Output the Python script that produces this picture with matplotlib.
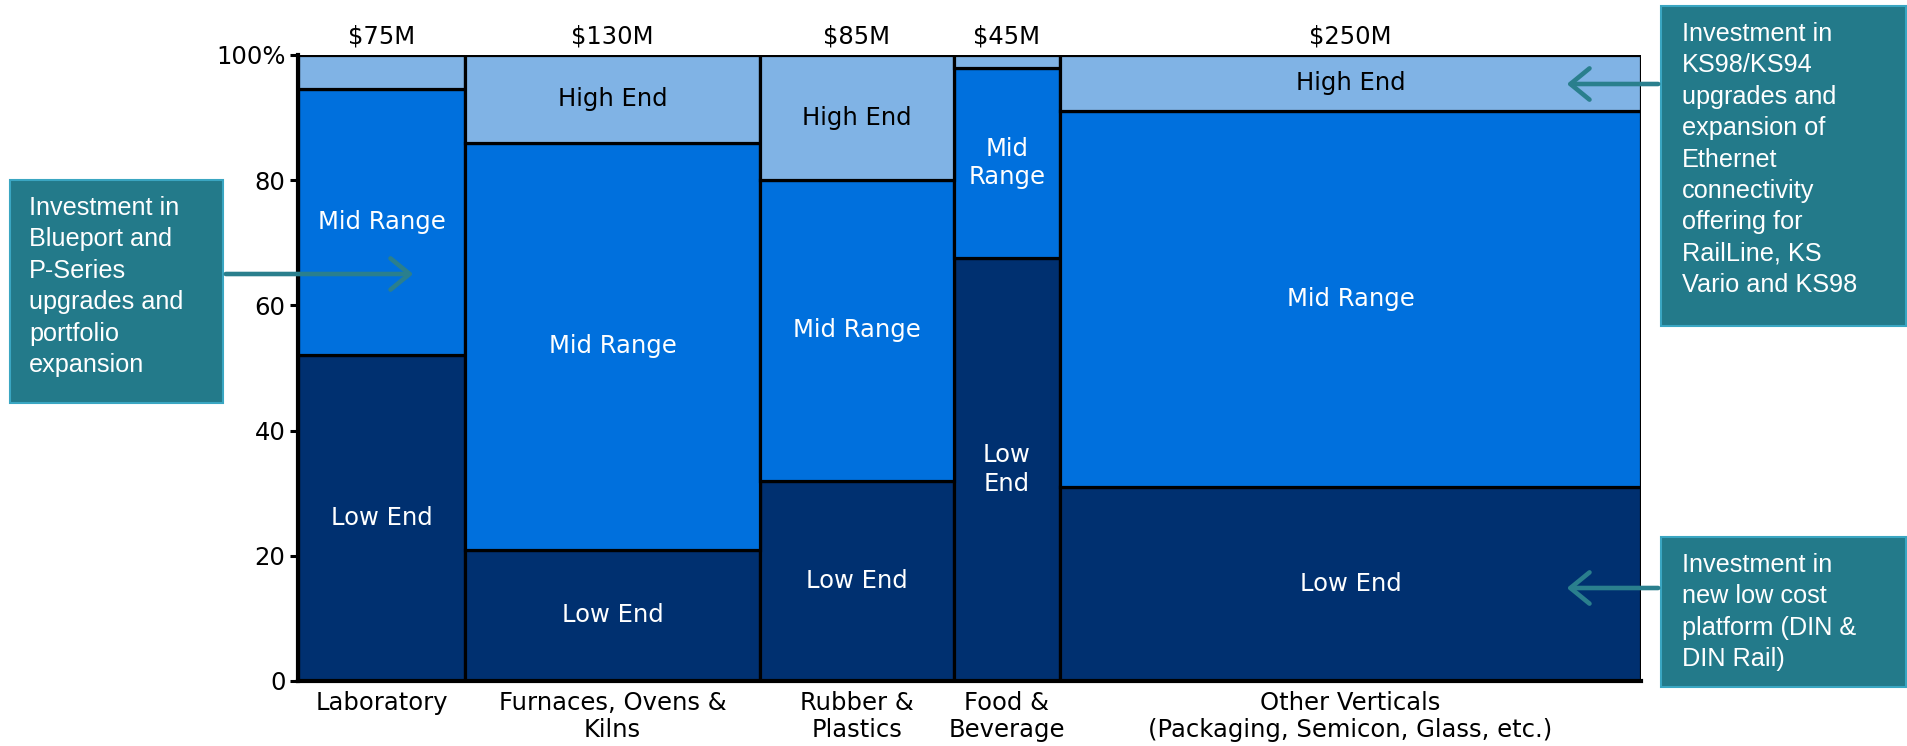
import matplotlib
matplotlib.use("Agg")
import matplotlib.pyplot as plt
from matplotlib.patches import Rectangle, FancyArrowPatch
import numpy as np

# ---- data ----
verticals = ["Laboratory", "Furnaces, Ovens &\nKilns", "Rubber &\nPlastics",
             "Food &\nBeverage", "Other Verticals\n(Packaging, Semicon, Glass, etc.)"]
market_labels = ["$75M", "$130M", "$85M", "$45M", "$250M"]
# column widths ($M scale)
column_widths = [72.7, 128.5, 84.5, 46.2, 253.1]
low_end = [52, 21, 32, 67.5, 31]
mid_range = [42.5, 65, 48, 30.5, 60]
high_end = [5.5, 14, 20, 2, 9]
low_labels = ["Low End", "Low End", "Low End", "Low\nEnd", "Low End"]
mid_labels = ["Mid Range", "Mid Range", "Mid Range", "Mid\nRange", "Mid Range"]
high_labels = ["", "High End", "High End", "", "High End"]
ytick_vals = [0, 20, 40, 60, 80, 100]
ytick_labels = ["0", "20", "40", "60", "80", "100%"]
note_left = "Investment in\nBlueport and\nP-Series\nupgrades and\nportfolio\nexpansion"
note_top_right = ("Investment in\nKS98/KS94\nupgrades and\nexpansion of\nEthernet\nconnectivity\n"
                  "offering for\nRailLine, KS\nVario and KS98")
note_bottom_right = "Investment in\nnew low cost\nplatform (DIN &\nDIN Rail)"

C_LOW = "#003070"
C_MID = "#0070DD"
C_HIGH = "#80B3E5"
C_BOX = "#237A8A"
C_BOX_EDGE = "#3AA6C2"
C_ARROW = "#2A7F8D"

W, H = 1908, 746
fig = plt.figure(figsize=(W / 100, H / 100), dpi=100)
ax = fig.add_axes([298 / W, 1 - 681 / H, (1641 - 298) / W, (681 - 55) / H])

sizes = np.array(column_widths, dtype=float)
lefts = np.concatenate([[0], np.cumsum(sizes)[:-1]])
centers = lefts + sizes / 2
low = np.array(low_end)
mid = np.array(mid_range)
high = np.array(high_end)

lw = 2.3
ax.bar(lefts, low, width=sizes, align="edge", color=C_LOW, edgecolor="black", linewidth=lw, zorder=2)
ax.bar(lefts, mid, width=sizes, bottom=low, align="edge", color=C_MID, edgecolor="black", linewidth=lw, zorder=2)
ax.bar(lefts, high, width=sizes, bottom=low + mid, align="edge", color=C_HIGH, edgecolor="black", linewidth=lw, zorder=2)

fs = 17.5
for i in range(len(sizes)):
    ax.text(centers[i], low[i] / 2, low_labels[i], ha="center", va="center",
            color="white", fontsize=fs, linespacing=1.25, zorder=3)
    ax.text(centers[i], low[i] + mid[i] / 2, mid_labels[i], ha="center", va="center",
            color="white", fontsize=fs, linespacing=1.25, zorder=3)
    if high_labels[i]:
        ax.text(centers[i], low[i] + mid[i] + high[i] / 2, high_labels[i], ha="center",
                va="center", color="black", fontsize=fs, zorder=3)
    ax.text(centers[i], 103.0, market_labels[i], ha="center", va="center",
            color="black", fontsize=fs, clip_on=False)

ax.set_xlim(0, sizes.sum())
ax.set_ylim(0, 100)
ax.set_yticks(ytick_vals)
ax.set_yticklabels(ytick_labels, fontsize=fs)
ax.set_xticks(centers)
ax.set_xticklabels(verticals, fontsize=fs, linespacing=1.15, va="top")
ax.tick_params(axis="x", length=0, pad=7)
ax.tick_params(axis="y", length=6, width=2.2, pad=3, direction="out")
for s in ["top", "right"]:
    ax.spines[s].set_visible(False)
for s in ["left", "bottom"]:
    ax.spines[s].set_linewidth(3)
    ax.spines[s].set_zorder(4)

# ---- annotation boxes ----
def fig_xy(px, py):
    return px / W, 1 - py / H

def add_box(x0, y0, x1, y1, text, tx, ty):
    bx, by = fig_xy(x0, y1)
    rect = Rectangle((bx, by), (x1 - x0) / W, (y1 - y0) / H, transform=fig.transFigure,
                     facecolor=C_BOX, edgecolor=C_BOX_EDGE, linewidth=1.5, zorder=5)
    fig.add_artist(rect)
    fig.text(*fig_xy(tx, ty), text, ha="left", va="top", color="white",
             fontsize=18.2, family=["Liberation Sans", "DejaVu Sans"],
             linespacing=1.39, zorder=6)

def add_arrow(x0, y0, x1, y1):
    arr = FancyArrowPatch(fig_xy(x0, y0), fig_xy(x1, y1), transform=fig.transFigure,
                          arrowstyle="->,head_length=0.55,head_width=0.45",
                          mutation_scale=25, color=C_ARROW, linewidth=3.3,
                          capstyle="round", joinstyle="round", zorder=6)
    fig.add_artist(arr)

add_box(10, 180, 223, 403, note_left, 29, 196)
add_box(1661, 6, 1906, 326, note_top_right, 1682, 22)
add_box(1661, 537, 1906, 687, note_bottom_right, 1682, 553)

add_arrow(223, 274, 416, 274)
add_arrow(1661, 84, 1564, 84)
add_arrow(1661, 588, 1564, 588)

fig.savefig("out.png", dpi=100)
